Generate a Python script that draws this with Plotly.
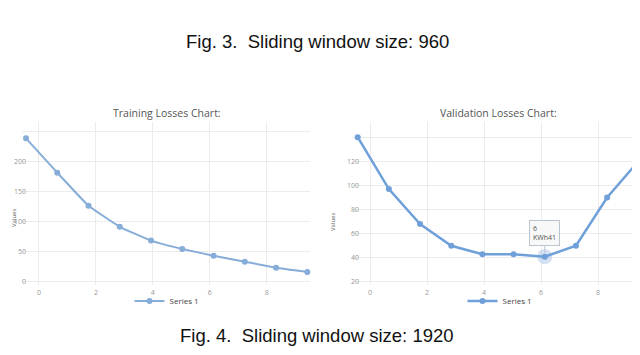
import plotly.graph_objects as go

# data
epochs = [0, 1, 2, 3, 4, 5, 6, 7, 8, 9]
train_loss = [238, 181, 126, 91, 68, 54, 43, 33, 23, 16]
val_loss = [140, 97, 68, 50, 43, 43, 41, 50, 90, 120]
x_ticks = [0, 2, 4, 6, 8]
train_ticks = [0, 50, 100, 150, 200, 250]
train_ticktext = ["0", "50", "100", "150", "200", ""]
val_ticks = [20, 40, 60, 80, 100, 120, 140]
val_ticktext = ["20", "40", "60", "80", "100", "120", ""]
tip_epoch = 6
tip_value = 41

# the page body keeps its default 8px margin, so the figure is made that much smaller
OFF = 8
W, H = 640 - 2 * OFF, 355 - 2 * OFF


def px(x):
    return (x - OFF) / W


def py(y):
    return 1 - (y - OFF) / H


left_col = "#86acd8"
right_col = "#6fa0d9"
grid = "#ececec"
tick_font = dict(family="Open Sans", size=7, color="#999999")

fig = go.Figure()

# training chart
fig.add_trace(go.Scatter(x=epochs, y=train_loss, mode="lines+markers", name="Series 1",
                         line=dict(color=left_col, width=2, shape="spline", smoothing=0.3),
                         marker=dict(size=6, color=left_col), cliponaxis=False,
                         xaxis="x", yaxis="y", legend="legend"))
fig.add_trace(go.Scatter(x=x_ticks, y=[None] * len(x_ticks), mode="markers", showlegend=False,
                         hoverinfo="skip", xaxis="x3", yaxis="y"))

# validation chart
fig.add_trace(go.Scatter(x=epochs, y=val_loss, mode="lines+markers", name="Series 1",
                         line=dict(color=right_col, width=2.5),
                         marker=dict(size=6, color=right_col), cliponaxis=False,
                         xaxis="x2", yaxis="y2", legend="legend2"))
fig.add_trace(go.Scatter(x=[tip_epoch], y=[tip_value], mode="markers", showlegend=False,
                         marker=dict(size=15, color="rgba(111,160,217,0.3)"),
                         xaxis="x2", yaxis="y2"))
fig.add_trace(go.Scatter(x=x_ticks, y=[None] * len(x_ticks), mode="markers", showlegend=False,
                         hoverinfo="skip", xaxis="x4", yaxis="y2"))

ydom = [py(285), py(122)]
common = dict(automargin=False, zeroline=False, showline=False)

fig.update_layout(
    width=W, height=H, autosize=False,
    margin=dict(l=0, r=0, t=0, b=0, pad=0),
    paper_bgcolor="white", plot_bgcolor="white",
    font=dict(family="Open Sans", color="#666666"),
    xaxis=dict(domain=[px(22), px(310)], range=[-0.128, 9.086], anchor="y",
               showticklabels=False, showgrid=False, **common),
    xaxis3=dict(overlaying="x", range=[-0.597, 9.52], anchor="y", tickvals=x_ticks,
                showgrid=True, gridcolor=grid, tickfont=tick_font, ticklabelstandoff=2, **common),
    yaxis=dict(domain=ydom, range=[-5.8, 265.2], anchor="x", tickvals=train_ticks,
               ticktext=train_ticktext, gridcolor=grid, tickfont=tick_font,
               ticklabelstandoff=-5, **common),
    xaxis2=dict(domain=[px(352), 1], range=[-0.183, 8.798], anchor="y2",
                showticklabels=False, showgrid=False, **common),
    xaxis4=dict(overlaying="x2", range=[-0.632, 9.193], anchor="y2", tickvals=x_ticks,
                showgrid=True, gridcolor=grid, tickfont=tick_font, ticklabelstandoff=2, **common),
    yaxis2=dict(domain=ydom, range=[17.5, 152.6], anchor="x2", tickvals=val_ticks,
                ticktext=val_ticktext, gridcolor=grid, tickfont=tick_font,
                ticklabelstandoff=-8, **common),
    legend=dict(x=px(167), y=py(301), xanchor="center", yanchor="middle",
                font=dict(size=8, color="#444444"), bgcolor="rgba(0,0,0,0)",
                itemwidth=30, tracegroupgap=0),
    legend2=dict(x=px(500), y=py(301), xanchor="center", yanchor="middle",
                 font=dict(size=8, color="#444444"), bgcolor="rgba(0,0,0,0)",
                 itemwidth=30, tracegroupgap=0),
    hovermode=False,
)

annots = [
    dict(text="Training Losses Chart:", x=px(167), y=py(113), size=10.5),
    dict(text="Validation Losses Chart:", x=px(498), y=py(113), size=10.5),
]
for a in annots:
    fig.add_annotation(text=a["text"], x=a["x"], y=a["y"], xref="paper", yref="paper",
                       showarrow=False, xanchor="center", yanchor="middle",
                       font=dict(family="Open Sans", size=a["size"], color="#555555"))

for xv, yv, anc in [(8, 218, "left"), (333, 222, "center")]:
    fig.add_annotation(text="Values", x=px(xv), y=py(yv), xref="paper", yref="paper",
                       showarrow=False, textangle=-90, xanchor=anc, yanchor="middle",
                       font=dict(family="Open Sans", size=6, color="#666666"))

fig.add_annotation(text="Fig. 3.&nbsp;&nbsp;Sliding window size: 960", x=px(317), y=py(41),
                   xref="paper", yref="paper", showarrow=False, xanchor="center",
                   yanchor="middle", font=dict(family="Liberation Sans", size=18.5, color="#111111"))
fig.add_annotation(text="Fig. 4.&nbsp;&nbsp;Sliding window size: 1920", x=px(317), y=0,
                   xref="paper", yref="paper", showarrow=False, xanchor="center",
                   yanchor="bottom", borderpad=0,
                   font=dict(family="Liberation Sans", size=18.5, color="#111111"))

# tooltip on the highlighted point
fig.add_annotation(text="6<br>KWh41", x=tip_epoch, y=tip_value, xref="x2", yref="y2",
                   showarrow=True, ax=0, ay=-24, arrowhead=0, arrowwidth=1,
                   arrowcolor="#b9c4cf", standoff=4, align="left",
                   bgcolor="#f8f8f8", bordercolor="#b9c4cf", borderwidth=1, borderpad=3,
                   font=dict(family="Open Sans", size=7, color="#555555"))

fig.write_html("out.html")
